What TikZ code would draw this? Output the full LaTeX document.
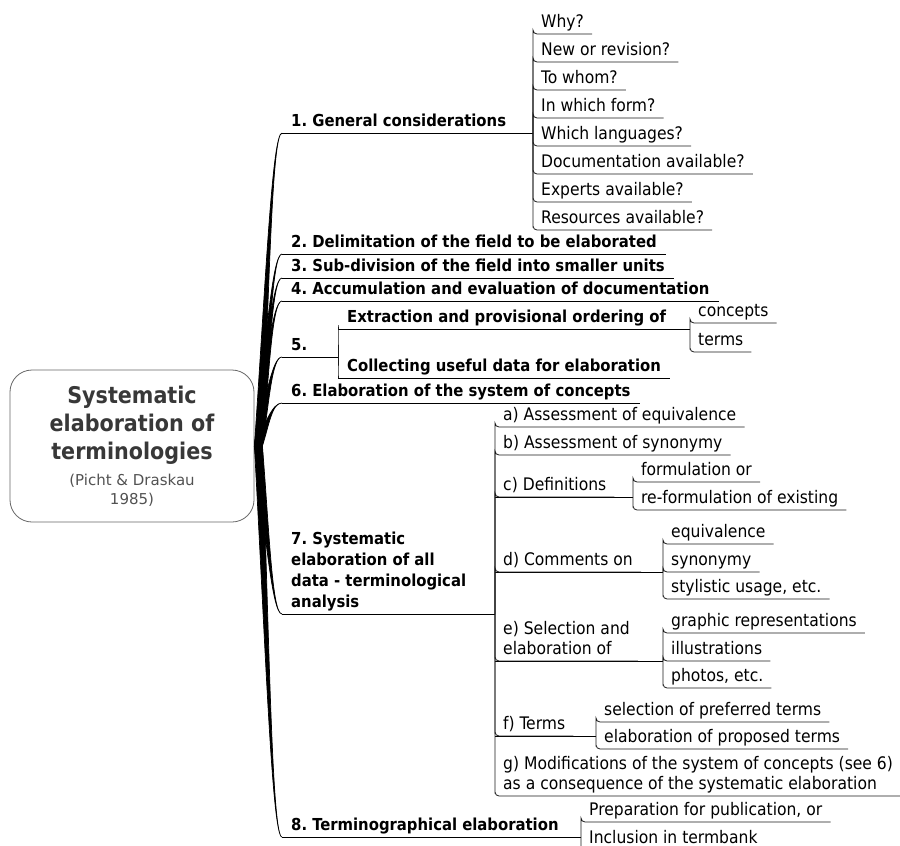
\documentclass[tikz,border=0pt]{standalone}
\usepackage{fontspec}
\setmainfont{DejaVu Sans}
\newfontfamily\condfont{DejaVu Sans Condensed}
\usetikzlibrary{calc}

\begin{document}
\frenchspacing
\begin{tikzpicture}[x=1pt,y=-1pt]
  \tikzstyle{root}=[draw=black!60,text=black!78,rounded corners=22pt,minimum width=244pt,minimum height=152pt,align=center,line width=0.8pt,font=\condfont\bfseries\fontsize{23}{28}\selectfont]
  \tikzstyle{branch}=[anchor=south west,inner xsep=9pt,inner ysep=3pt,text depth=3.5pt,align=left,font=\condfont\bfseries\fontsize{16.5}{21}\selectfont]
  \tikzstyle{leaf}=[anchor=south west,inner xsep=8pt,inner ysep=3pt,text depth=3.5pt,align=left,font=\condfont\fontsize{17.3}{20}\selectfont]
  \tikzstyle{trunk}=[fill=black,draw=black,line width=0.7pt]
  \tikzstyle{line}=[draw=black,line width=1pt]
  \tikzstyle{twig}=[draw=black!90,line width=0.8pt,rounded corners=4pt]

  \useasboundingbox (0,0) rectangle (900,846);

  \node[root] (root) at (132,446) {Systematic\\elaboration of\\terminologies\\[-2pt]
    {\normalfont\fontsize{15}{19}\selectfont\color{black!68}(Picht \& Draskau}\\[-9pt]
    {\normalfont\fontsize{15}{19}\selectfont\color{black!68}1985)}};

  \node[branch] (b1) at (282,133) {1. General considerations};
  \node[branch] (b2) at (282,254) {2. Delimitation of the field to be elaborated};
  \node[branch] (b3) at (282,278) {3. Sub-division of the field into smaller units};
  \node[branch] (b4) at (282,301) {4. Accumulation and evaluation of documentation};
  \node[branch] (b5) at (282,357) {5.};
  \node[branch] (b6) at (282,403) {6. Elaboration of the system of concepts};
  \node[branch] (b7) at (282,614) {7. Systematic\\elaboration of all\\data - terminological\\analysis};
  \node[branch] (b8) at (282,837) {8. Terminographical elaboration};

  \coordinate (j1) at (533,133);
  \coordinate (j5) at (338,357);
  \coordinate (j51) at (690,329);
  \coordinate (j7) at (495,614);
  \coordinate (jc) at (633,497);
  \coordinate (jd) at (663,572);
  \coordinate (je) at (663,661);
  \coordinate (jf) at (596,736);
  \coordinate (j8) at (581,837);

  \foreach \t [count=\i] in {Why?,New or revision?,To whom?,In which form?,Which languages?,
                             Documentation available?,Experts available?,Resources available?}
    \node[leaf] (l1\i) at (533,6+28*\i) {\t};

  \node[branch] (b51) at (338,329) {Extraction and provisional ordering of};
  \node[branch] (b52) at (338,378) {Collecting useful data for elaboration};
  \node[leaf] (l51) at (690,323) {concepts};
  \node[leaf] (l52) at (690,352) {terms};

  \node[leaf] (l7a) at (495,427) {a) Assessment of equivalence};
  \node[leaf] (l7b) at (495,455) {b) Assessment of synonymy};
  \node[leaf] (l7c) at (495,497) {c) Definitions};
  \node[leaf] (l7c1) at (633,482) {formulation or};
  \node[leaf] (l7c2) at (633,510) {re-formulation of existing};
  \node[leaf] (l7d) at (495,572) {d) Comments on};
  \node[leaf] (l7d1) at (663,544) {equivalence};
  \node[leaf] (l7d2) at (663,572) {synonymy};
  \node[leaf] (l7d3) at (663,599) {stylistic usage, etc.};
  \node[leaf] (l7e) at (495,661) {e) Selection and\\elaboration of};
  \node[leaf] (l7e1) at (663,633) {graphic representations};
  \node[leaf] (l7e2) at (663,661) {illustrations};
  \node[leaf] (l7e3) at (663,688) {photos, etc.};
  \node[leaf] (l7f) at (495,736) {f) Terms};
  \node[leaf] (l7f1) at (596,722) {selection of preferred terms};
  \node[leaf] (l7f2) at (596,749) {elaboration of proposed terms};
  \node[leaf] (l7g) at (495,796) {g) Modifications of the system of concepts (see 6)\\as a consequence of the systematic elaboration};
  \node[leaf] (l81) at (581,822) {Preparation for publication, or};
  \node[leaf] (l82) at (581,850) {Inclusion in termbank};

  \foreach \br in {b1,b2,b3,b4,b5,b6,b7,b8} {
    \coordinate (k) at ([xshift=-10pt]\br.south west);
    \coordinate (m) at ($(root.east)!.5!(k)$);
    \filldraw[trunk] ($(root.east)+(0,0)$) .. controls ($(m)+(2,0)$) and (k) .. (\br.south west)
      .. controls (k) and ($(m)+(6,0)$) .. ($(root.east)+(8,0)$) -- cycle;
  }

  \foreach \n in {b2,b3,b4,b6,b52}
    \draw[line] (\n.south west) -- (\n.south east);
  \draw[line] (b1.south west) -- (j1);
  \draw[line] (b5.south west) -- (j5);
  \draw[line] (b51.south west) -- (j51);
  \draw[line] (b7.south west) -- (j7);
  \draw[line] (b8.south west) -- (j8);
  \draw[line] (l7c.south west) -- (jc);
  \draw[line] (l7d.south west) -- (jd);
  \draw[line] (l7e.south west) -- (je);
  \draw[line] (l7f.south west) -- (jf);

  \foreach \n in {l11,l12,l13,l14,l15,l16,l17,l18}
    \draw[twig] (j1) |- (\n.south west) -- (\n.south east);
  \foreach \n in {b51,b52}
    \draw[twig] (j5) |- (\n.south west);
  \foreach \n in {l51,l52}
    \draw[twig] (j51) |- (\n.south west) -- (\n.south east);
  \foreach \n in {l7a,l7b,l7c,l7d,l7e,l7f,l7g}
    \draw[twig] (j7) |- (\n.south west) -- (\n.south east);
  \foreach \n in {l7c1,l7c2}
    \draw[twig] (jc) |- (\n.south west) -- (\n.south east);
  \foreach \n in {l7d1,l7d2,l7d3}
    \draw[twig] (jd) |- (\n.south west) -- (\n.south east);
  \foreach \n in {l7e1,l7e2,l7e3}
    \draw[twig] (je) |- (\n.south west) -- (\n.south east);
  \foreach \n in {l7f1,l7f2}
    \draw[twig] (jf) |- (\n.south west) -- (\n.south east);
  \foreach \n in {l81,l82}
    \draw[twig] (j8) |- (\n.south west) -- (\n.south east);
\end{tikzpicture}
\end{document}
